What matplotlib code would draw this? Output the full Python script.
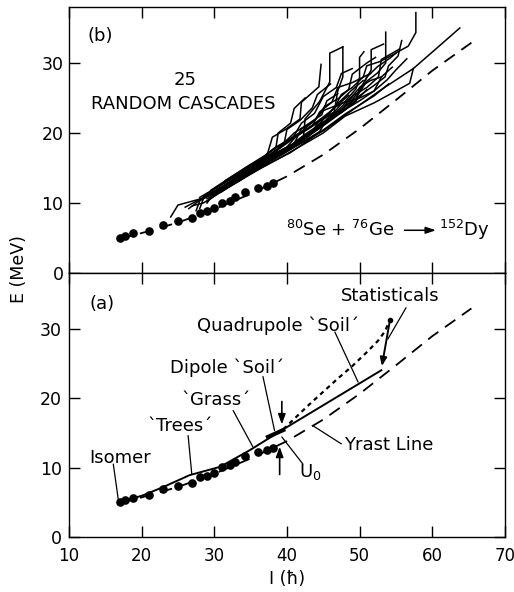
import matplotlib
matplotlib.use('Agg')
import matplotlib.pyplot as plt

# yrast states (filled circles), same in both panels
dots_I = [17.0, 17.7, 18.8, 21.0, 23.0, 25.0, 27.0, 28.0, 29.0, 30.0, 31.1, 32.1, 32.8, 34.2, 36.0, 37.2, 38.1]
dots_E = [5.05, 5.3, 5.65, 6.0, 6.85, 7.4, 7.8, 8.6, 8.85, 9.25, 10.05, 10.3, 10.8, 11.6, 12.2, 12.45, 12.85]

# yrast line (dashed)
yrast_I = [17.0, 20.0, 25.0, 30.0, 35.0, 40.0, 45.0, 50.0, 55.0, 60.0, 65.4]
yrast_E = [4.9, 5.7, 7.2, 9.1, 11.3, 13.8, 16.9, 20.6, 24.7, 28.9, 32.9]

# panel (a): schematic decay path
path_I = [17.0, 20.2, 23.0, 26.6, 30.8, 34.9, 39.5, 53.0]
path_E = [5.0, 6.0, 7.2, 8.9, 10.1, 12.5, 15.5, 24.0]
dipole_I = [37.4, 39.5]
dipole_E = [14.4, 15.4]
quad_I = [39.5, 41.0, 43.0, 45.0, 47.0, 49.0, 51.0, 52.5, 53.5, 54.2]
quad_E = [15.5, 17.0, 19.0, 20.9, 22.8, 24.6, 26.6, 28.2, 29.6, 31.3]
stat_I = [54.2, 53.0]
stat_E = [31.3, 24.2]

# panel (b): 25 random cascades, each a list of (I, E) points
cascades = [
    [(44.7, 29.8), (44.4, 26.6), (42.0, 24.4), (41.8, 22.0), (39.8, 20.5), (38.0, 19.4), (37.2, 16.6),
     (35.0, 14.6), (32.0, 12.6), (29.4, 11.4), (28.5, 10.7), (25.0, 9.7), (24.0, 8.0)],
    [(47.7, 32.3), (45.9, 31.4), (45.9, 27.3), (44.5, 24.5), (42.5, 22.0), (42.3, 19.6), (40.0, 17.8),
     (37.5, 16.0), (34.0, 13.8), (31.0, 11.9), (28.5, 10.6), (28.0, 9.2)],
    [(47.7, 32.3), (47.7, 28.0), (47.0, 26.0), (46.5, 23.0), (44.5, 21.8), (43.0, 19.5), (41.0, 18.2),
     (38.0, 16.3), (35.0, 14.5), (32.0, 12.7), (30.0, 11.5), (29.0, 10.0)],
    [(50.6, 31.6), (50.0, 30.8), (50.0, 27.9), (49.5, 26.3), (48.0, 24.5), (46.5, 23.6), (44.0, 20.8),
     (41.5, 18.6), (38.5, 16.7), (35.5, 14.8), (33.0, 13.3), (30.5, 11.8)],
    [(53.3, 32.7), (51.6, 31.9), (51.6, 29.0), (50.5, 27.0), (49.0, 25.3), (47.0, 23.2), (44.5, 21.0),
     (42.0, 19.0), (39.0, 17.0), (36.0, 15.0), (33.0, 13.1), (31.0, 11.6)],
    [(53.6, 34.4), (53.6, 30.0), (52.5, 28.6), (51.0, 27.4), (49.5, 25.0), (48.0, 23.3), (45.5, 21.4),
     (42.5, 19.2), (39.5, 17.2), (37.0, 15.7), (34.5, 14.2), (32.5, 12.8)],
    [(57.75, 37.2), (57.75, 34.35), (56.7, 32.4), (55.1, 31.5), (54.2, 30.7), (52.5, 29.5), (51.0, 28.0),
     (50.0, 26.0), (48.5, 24.2), (46.0, 22.0), (43.0, 19.7), (40.0, 17.6), (37.5, 16.0), (35.0, 14.4), (33.5, 13.2)],
    [(63.8, 35.0), (60.5, 32.0), (57.4, 29.2), (53.0, 26.2), (48.65, 23.0), (45.0, 20.3), (41.0, 18.0),
     (38.0, 16.2), (35.0, 14.2), (33.0, 12.9), (30.0, 11.2)],
    [(57.4, 29.2), (56.9, 27.1), (55.0, 26.0), (52.0, 24.3), (48.0, 22.4), (45.0, 20.0), (42.0, 18.2),
     (39.0, 16.4), (36.5, 15.0), (34.0, 13.5), (32.0, 12.3)],
    [(55.8, 33.2), (55.3, 31.0), (54.0, 29.6), (53.5, 28.0), (52.0, 26.8), (50.5, 25.7), (48.0, 23.8),
     (45.5, 21.7), (43.0, 19.9), (40.5, 18.0), (38.0, 16.5), (35.5, 15.0), (33.0, 13.4)],
    [(55.5, 32.0), (53.0, 30.5), (52.6, 28.0), (51.0, 26.5), (49.2, 25.4), (47.5, 23.3), (45.0, 22.0),
     (44.2, 20.5), (41.5, 18.8), (39.0, 17.3), (36.0, 15.4), (34.0, 14.0)],
    [(55.0, 31.4), (52.8, 30.2), (51.0, 29.6), (50.5, 28.0), (49.0, 26.5), (47.5, 25.5), (46.5, 23.5),
     (44.0, 21.5), (41.0, 19.3), (38.5, 17.4), (36.0, 15.7), (33.5, 13.9), (31.5, 12.5)],
    [(54.5, 29.4), (53.0, 28.0), (51.5, 27.5), (50.0, 26.5), (49.5, 24.5), (47.0, 22.8), (44.5, 21.2),
     (42.5, 19.8), (40.0, 17.8), (37.0, 16.0), (34.5, 14.5)],
    [(53.0, 28.0), (52.0, 26.0), (50.0, 25.0), (47.5, 24.2), (46.0, 22.3), (43.5, 20.3), (41.0, 18.5),
     (38.0, 16.9), (35.5, 15.4), (33.0, 13.8), (30.0, 12.0), (28.0, 10.8)],
    [(51.5, 28.5), (49.0, 27.2), (47.0, 26.5), (46.2, 24.4), (44.5, 23.0), (43.5, 21.0), (41.5, 19.8),
     (40.0, 18.0), (37.5, 16.5), (35.0, 15.2), (32.5, 13.5)],
    [(49.0, 29.2), (47.5, 28.5), (46.8, 26.5), (45.0, 25.2), (43.8, 22.8), (42.0, 21.4), (40.8, 19.3),
     (38.5, 18.0), (36.5, 16.3), (34.0, 14.8), (31.5, 13.2)],
    [(52.2, 30.8), (51.0, 30.0), (49.0, 28.4), (48.5, 26.2), (47.2, 25.0), (45.2, 23.8), (44.0, 22.0),
     (42.0, 20.2), (39.5, 18.6), (37.0, 16.8), (34.5, 15.2), (32.0, 13.5), (29.5, 11.8)],
    [(42.5, 25.0), (41.0, 23.5), (40.5, 21.4), (38.8, 20.0), (38.5, 18.0), (37.2, 17.0), (36.0, 15.5),
     (33.5, 13.8), (31.0, 12.2), (28.5, 10.8), (26.0, 9.4)],
    [(46.0, 27.0), (44.2, 25.5), (43.5, 23.6), (41.8, 21.8), (40.0, 20.5), (39.6, 18.4), (37.5, 16.8),
     (35.0, 15.0), (32.5, 13.3), (30.0, 11.7), (28.0, 10.3), (27.5, 8.9)],
    [(50.5, 27.5), (48.8, 26.0), (47.0, 24.2), (45.5, 22.4), (43.0, 20.6), (40.5, 19.0), (38.0, 17.2),
     (35.5, 15.6), (33.0, 14.0), (30.5, 12.3), (28.5, 11.0)],
    [(56.5, 30.6), (55.0, 29.0), (53.8, 27.6), (52.0, 26.0), (50.0, 24.6), (47.5, 23.0), (45.0, 21.3),
     (42.5, 19.4), (40.0, 17.6), (37.5, 16.1), (35.0, 14.6), (32.0, 12.9), (29.5, 11.3)],
    [(51.0, 26.2), (49.5, 24.6), (47.5, 22.9), (45.5, 22.0), (44.5, 20.2), (42.0, 18.6), (39.5, 17.0),
     (37.0, 15.5), (34.0, 13.6), (31.5, 12.0), (29.0, 10.6)],
    [(48.5, 25.4), (47.0, 24.0), (45.0, 23.2), (43.5, 21.5), (42.0, 20.6), (41.0, 18.5), (38.5, 17.0),
     (36.0, 15.2), (33.5, 13.6), (30.5, 11.9), (28.0, 10.4), (26.5, 9.2)],
    [(54.0, 27.0), (52.0, 25.3), (50.0, 24.0), (48.0, 22.7), (45.5, 20.8), (43.0, 19.0), (40.5, 17.2),
     (38.0, 15.9), (35.5, 14.5), (33.0, 13.0), (30.5, 11.4), (29.0, 10.2)],
    [(47.0, 25.6), (45.5, 24.6), (44.8, 22.6), (42.8, 21.2), (41.0, 20.0), (39.0, 18.0), (37.8, 16.4),
     (36.0, 14.9), (33.5, 13.2), (31.0, 11.6), (28.5, 10.0), (27.0, 9.6)],
]

x_ticks = [10, 20, 30, 40, 50, 60, 70]
y_ticks = [0, 10, 20, 30]

plt.rcParams['font.family'] = 'DejaVu Sans'
plt.rcParams['mathtext.fontset'] = 'dejavusans'

fig = plt.figure(figsize=(5.14, 5.92), dpi=100)
ax_b = fig.add_axes([0.1342, 0.5389, 0.848, 0.4493])
ax_a = fig.add_axes([0.1342, 0.0929, 0.848, 0.4460])

dash = (0, (7, 4.5))
for ax in (ax_a, ax_b):
    ax.set_xlim(10, 70)
    ax.set_ylim(0, 38)
    ax.set_xticks(x_ticks)
    ax.set_yticks(y_ticks)
    ax.tick_params(direction='in', length=8, width=1, top=True, right=True, labelsize=12.5, pad=4)
    for s in ax.spines.values():
        s.set_linewidth(1)
    ax.plot(yrast_I, yrast_E, color='black', lw=1.3, ls=dash)
    ax.plot(dots_I, dots_E, 'o', color='black', ms=5.2)

ax_b.tick_params(labelbottom=False)
ax_a.tick_params(axis='x', labelsize=12, pad=7)
ax_a.tick_params(axis='y', pad=5)

# ---- panel (b)
for c in cascades:
    ax_b.plot([p[0] for p in c], [p[1] for p in c], color='black', lw=1.1, solid_joinstyle='miter')

ax_b.text(14.3, 33.8, '(b)', fontsize=13, ha='center', va='center')
ax_b.text(26.0, 27.6, '25', fontsize=13, ha='center', va='center')
ax_b.text(25.7, 24.2, 'RANDOM CASCADES', fontsize=13, ha='center', va='center')
ax_b.text(39.9, 6.1, r'$^{80}$Se + $^{76}$Ge', fontsize=13, ha='left', va='center')
ax_b.annotate('', xy=(60.9, 6.1), xytext=(55.8, 6.1),
              arrowprops=dict(arrowstyle='-|>,head_length=0.6,head_width=0.2', color='black', lw=1.1))
ax_b.text(61.0, 6.1, r'$^{152}$Dy', fontsize=13, ha='left', va='center')

# ---- panel (a)
ax_a.plot(path_I, path_E, color='black', lw=1.4)
ax_a.plot(dipole_I, dipole_E, color='black', lw=3.0)
ax_a.plot(quad_I, quad_E, color='black', lw=1.6, ls=(0, (2, 1.8)))
ax_a.annotate('', xy=(stat_I[1], stat_E[1]), xytext=(stat_I[0], stat_E[0]),
              arrowprops=dict(arrowstyle='-|>,head_length=0.5,head_width=0.2', color='black', lw=1.4))
ax_a.plot(stat_I[0], stat_E[0], 'o', color='black', ms=3)

arrow_kw = dict(arrowstyle='-|>,head_length=0.6,head_width=0.22', color='black', lw=1.2)
ax_a.annotate('', xy=(39.3, 15.8), xytext=(39.3, 19.9), arrowprops=arrow_kw)
ax_a.annotate('', xy=(39.0, 13.4), xytext=(39.0, 8.6), arrowprops=arrow_kw)

lead = dict(arrowstyle='-', color='black', lw=0.9, shrinkA=0, shrinkB=0)
labels = [
    ('(a)', (14.5, 33.5), None),
    ('Isomer', (17.1, 11.3), ((16.1, 10.5), (16.8, 5.3))),
    ('`Trees\u00b4', (25.3, 16.0), ((26.4, 14.6), (26.9, 9.1))),
    ('`Grass\u00b4', (30.2, 19.7), ((32.6, 18.2), (35.3, 13.0))),
    ('Dipole `Soil\u00b4', (31.7, 24.4), ((36.7, 23.1), (38.3, 15.3))),
    ('Quadrupole `Soil\u00b4', (38.8, 30.4), ((46.6, 29.5), (49.8, 22.3))),
    ('Statisticals', (54.15, 34.7), ((56.4, 33.0), (53.9, 28.5))),
    ('Yrast Line', (54.0, 13.2), ((47.5, 13.4), (43.6, 16.0))),
    (r'U$_0$', (43.2, 9.3), ((42.2, 10.5), (39.3, 14.4))),
]
for txt, pos, ln in labels:
    ax_a.text(pos[0], pos[1], txt, fontsize=13, ha='center', va='center')
    if ln is not None:
        ax_a.annotate('', xy=ln[1], xytext=ln[0], arrowprops=lead)

ax_a.set_xlabel('I (\u0127)', fontsize=12.5, labelpad=4)
fig.text(0.037, 0.545, 'E (MeV)', rotation=90, fontsize=12.5, ha='center', va='center')

fig.savefig('out.png', dpi=100)
